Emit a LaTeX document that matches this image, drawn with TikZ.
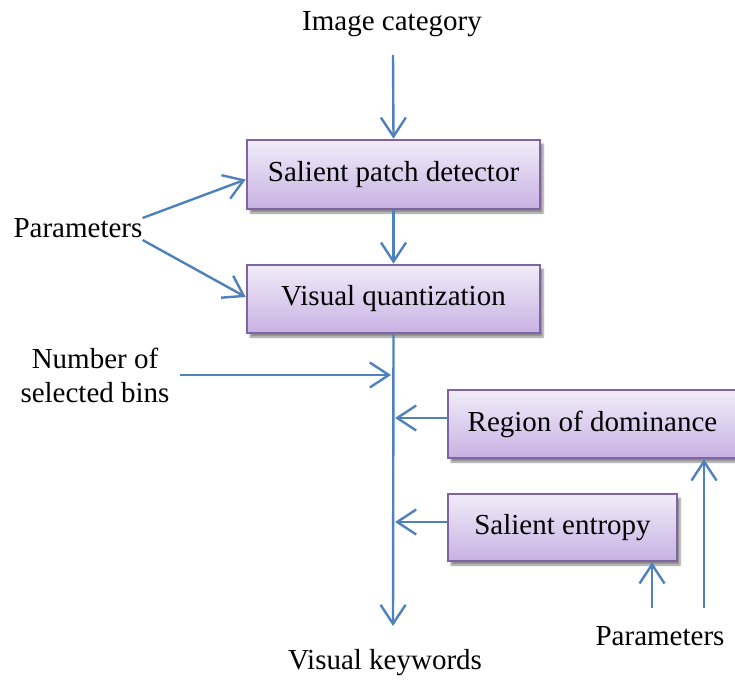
\documentclass[tikz,border=0pt]{standalone}
\usepackage{fontspec}
\setmainfont{Liberation Serif}
\usetikzlibrary{arrows.meta,shadows,shadows.blur}
\definecolor{lineblue}{HTML}{4F81BD}
\definecolor{boxborder}{HTML}{8064A2}
\definecolor{boxtop}{HTML}{F1ECF9}
\definecolor{boxbot}{HTML}{C7B2E3}
\begin{document}
\begin{tikzpicture}[x=1pt,y=-1pt,
  every node/.style={font=\fontsize{29}{33}\selectfont, text=black},
  procbox/.style={draw=boxborder, line width=2.6pt, top color=boxtop, bottom color=boxbot,
    inner sep=0pt, anchor=center,
    blur shadow={shadow xshift=3pt, shadow yshift=-4pt, shadow blur steps=6, shadow opacity=45}},
  flow/.style={draw=lineblue, line width=2.4pt, line join=round, -{Straight Barb[length=19pt,width=25pt,line width=2.4pt]}},
  lab/.style={inner sep=0pt, align=center}
]
\useasboundingbox (0,0) rectangle (735,680);

\node[lab] (cat) at (392,24) {Image category};
\node[procbox, minimum width=293pt, minimum height=69pt] (sp) at (393.5,174.5) {\raisebox{3pt}{Salient patch detector}};
\node[procbox, minimum width=293pt, minimum height=68pt] (vq) at (393.5,299) {\raisebox{3pt}{Visual quantization}};
\node[procbox, minimum width=289pt, minimum height=68pt] (rd) at (592.5,424) {\raisebox{4pt}{Region of dominance}};
\node[procbox, minimum width=229pt, minimum height=67pt] (se) at (562.5,527.5) {\raisebox{4pt}{Salient entropy}};

\node[lab] (par1) at (78,228) {Parameters};
\node[lab, font=\fontsize{29}{34}\selectfont] (nb) at (95,375) {Number of\\selected bins};
\node[lab] (kw) at (385,663) {Visual keywords};
\node[lab] (par2) at (660,636) {Parameters};

\coordinate (catb) at (393,55);
\coordinate (nbs) at (180,375);
\coordinate (nbe) at (391,375);
\coordinate (jr) at (395,418);
\coordinate (je) at (395,522);
\coordinate (kwt) at (393,626);
\coordinate (p2a) at (652,608);
\coordinate (p2b) at (704,608);

\draw[flow] (catb) -- (sp.north);
\draw[flow] (sp.south) -- (vq.north);
\draw[flow] ([yshift=10pt]par1.east) -- ([yshift=-5pt]sp.west);
\draw[flow] ([yshift=-12pt]par1.east) -- ([yshift=2pt]vq.west);
\draw[flow] (vq.south) -- (kwt);
\draw[flow] (nbs) -- (nbe);
\draw[flow] (rd.west |- jr) -- (jr);
\draw[flow] (se.west |- je) -- (je);
\draw[flow] (p2a) -- (p2a |- se.south);
\draw[flow] (p2b) -- (p2b |- rd.south);
\end{tikzpicture}
\end{document}
